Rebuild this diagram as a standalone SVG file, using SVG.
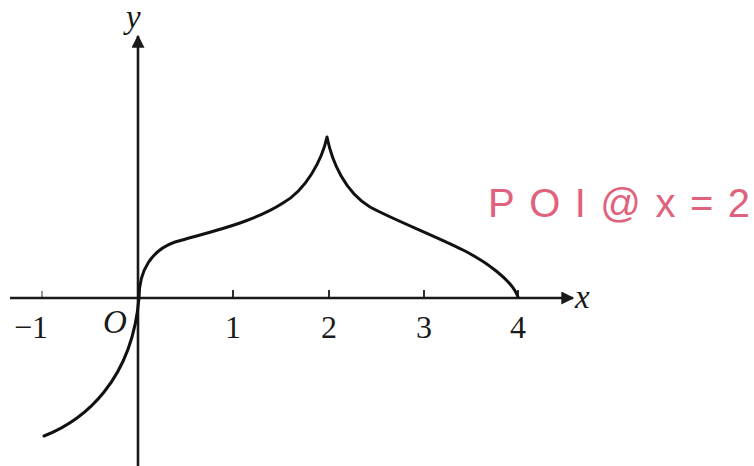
<svg xmlns="http://www.w3.org/2000/svg" width="754" height="466" viewBox="0 0 754 466">
  <style>
    .axis { stroke: #1a1a1a; stroke-width: 2.6; fill: none; }
    .tick { stroke: #1a1a1a; stroke-width: 1.8; }
    .curve { stroke: #111; stroke-width: 3; fill: none; stroke-linecap: round; stroke-linejoin: round; }
    .num { font-family: "Liberation Serif", serif; font-size: 32px; fill: #1a1a1a; text-anchor: middle; }
    .var { font-family: "Liberation Serif", serif; font-style: italic; font-size: 33px; fill: #1a1a1a; }
    .note { font-family: "Liberation Sans", sans-serif; font-size: 40px; fill: #e0627c; }
  </style>
  <defs>
    <marker id="arr" viewBox="0 0 10 10" refX="9" refY="5" markerWidth="6" markerHeight="5" markerUnits="strokeWidth" orient="auto">
      <path d="M0,0 L10,5 L0,10 Z" fill="#1a1a1a"/>
    </marker>
  </defs>
  <rect width="754" height="466" fill="#ffffff"/>
  <g id="axes">
    <line class="axis" x1="10" y1="298" x2="573" y2="298" marker-end="url(#arr)"/>
    <line class="axis" x1="138" y1="466" x2="138" y2="36" marker-end="url(#arr)"/>
    <line class="tick" x1="42" y1="291" x2="42" y2="299" stroke-opacity="0.5"/>
    <line class="tick" x1="233" y1="290" x2="233" y2="299"/>
    <line class="tick" x1="329" y1="290" x2="329" y2="299"/>
    <line class="tick" x1="424" y1="290" x2="424" y2="299"/>
    <line class="tick" x1="518" y1="290" x2="518" y2="299"/>
  </g>
  <g id="labels">
    <text class="num" x="31" y="338">−1</text>
    <text class="var" x="103" y="333">O</text>
    <text class="num" x="233" y="338">1</text>
    <text class="num" x="329" y="338">2</text>
    <text class="num" x="424" y="338">3</text>
    <text class="num" x="518" y="338">4</text>
    <text class="var" x="575" y="308">x</text>
    <text class="var" x="126" y="28">y</text>
  </g>
  <g id="curve">
    <path class="curve" d="M44,436 C85,420 132,380 139,298 C139,270 152,250 175,242 C205,233 250,224 283,203 C306,190 322,160 327,137 C332,162 345,192 370,207 C392,219 435,236 463,250 C485,261 512,280 518,297"/>
  </g>
  <g id="annotation">
    <text class="note" x="488" y="217" textLength="262" lengthAdjust="spacing">POI@x=2</text>
  </g>
</svg>
